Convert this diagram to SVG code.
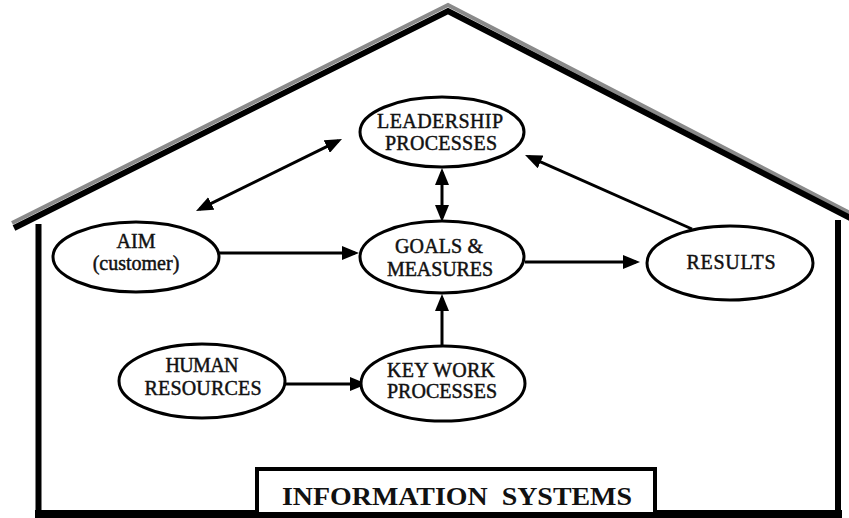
<svg xmlns="http://www.w3.org/2000/svg" width="849" height="518" viewBox="0 0 849 518">
<style>
.node ellipse{fill:#fff;stroke:#000;stroke-width:3}
.lbl{font-family:"Liberation Serif","Times New Roman",serif;font-size:20px;fill:#111;stroke:#111;stroke-width:0.45;text-anchor:middle}
.conn line{stroke:#000;stroke-width:3}
.dbl{marker-start:url(#ah);marker-end:url(#ah)}
.one{marker-end:url(#ah)}
</style>
<defs>
<marker id="ah" markerUnits="userSpaceOnUse" markerWidth="17" markerHeight="14" refX="13" refY="7" orient="auto-start-reverse">
<path d="M0,0 L17,7 L0,14 z" fill="#000"/>
</marker>
</defs>
<rect width="849" height="518" fill="#fff"/>
<g id="house">
<polyline points="12,223 448,5 852,214" fill="none" stroke="#8a8a8a" stroke-width="4" stroke-linejoin="miter"/>
<polyline points="14,228 448,11 852,219" fill="none" stroke="#000" stroke-width="6" stroke-linejoin="miter"/>
<line x1="38.5" y1="224" x2="38.5" y2="514" stroke="#000" stroke-width="6"/>
<line x1="838" y1="220" x2="838" y2="514" stroke="#000" stroke-width="6"/>
<rect x="35" y="510" width="807" height="8" fill="#000"/>
</g>
<g id="information-systems">
<rect x="257" y="469" width="398" height="45" fill="#fff" stroke="#000" stroke-width="4"/>
<text x="457" y="505" xml:space="preserve" font-family="'Liberation Serif','Times New Roman',serif" font-size="25" font-weight="bold" text-anchor="middle" textLength="350" lengthAdjust="spacingAndGlyphs" fill="#111">INFORMATION  SYSTEMS</text>
</g>
<g id="connectors" class="conn">
<line class="dbl" x1="199.6" y1="209.2" x2="338.4" y2="140.8"/>
<line class="dbl" x1="442" y1="172" x2="442" y2="218"/>
<line class="one" x1="218" y1="253" x2="355" y2="253"/>
<line class="one" x1="525" y1="262" x2="636" y2="262"/>
<line class="one" x1="692" y1="229" x2="528.7" y2="156.6"/>
<line class="one" x1="285" y1="384" x2="363" y2="384"/>
<line class="one" x1="442" y1="346" x2="442" y2="298"/>
</g>
<g id="leadership" class="node">
<ellipse cx="442" cy="132" rx="82" ry="35"/>
<text class="lbl" x="440" y="128" textLength="126" lengthAdjust="spacing">LEADERSHIP</text>
<text class="lbl" x="441" y="150" textLength="112" lengthAdjust="spacing">PROCESSES</text>
</g>
<g id="aim" class="node">
<ellipse cx="136" cy="257" rx="83" ry="35"/>
<text class="lbl" x="136" y="248">AIM</text>
<text class="lbl" x="136" y="270">(customer)</text>
</g>
<g id="goals" class="node">
<ellipse cx="442" cy="257" rx="82" ry="36"/>
<text class="lbl" x="439" y="253" textLength="88" lengthAdjust="spacing">GOALS &amp;</text>
<text class="lbl" x="440" y="276" textLength="106" lengthAdjust="spacing">MEASURES</text>
</g>
<g id="results" class="node">
<ellipse cx="730" cy="263" rx="83" ry="37"/>
<text class="lbl" x="731" y="269" textLength="89" lengthAdjust="spacing">RESULTS</text>
</g>
<g id="human-resources" class="node">
<ellipse cx="202" cy="381" rx="83" ry="37"/>
<text class="lbl" x="202" y="372" textLength="73" lengthAdjust="spacing">HUMAN</text>
<text class="lbl" x="203" y="395" textLength="117" lengthAdjust="spacing">RESOURCES</text>
</g>
<g id="key-work" class="node">
<ellipse cx="443" cy="383.5" rx="82" ry="37.5"/>
<text class="lbl" x="441" y="377" textLength="108" lengthAdjust="spacing">KEY WORK</text>
<text class="lbl" x="442" y="398" textLength="110" lengthAdjust="spacing">PROCESSES</text>
</g>
</svg>
